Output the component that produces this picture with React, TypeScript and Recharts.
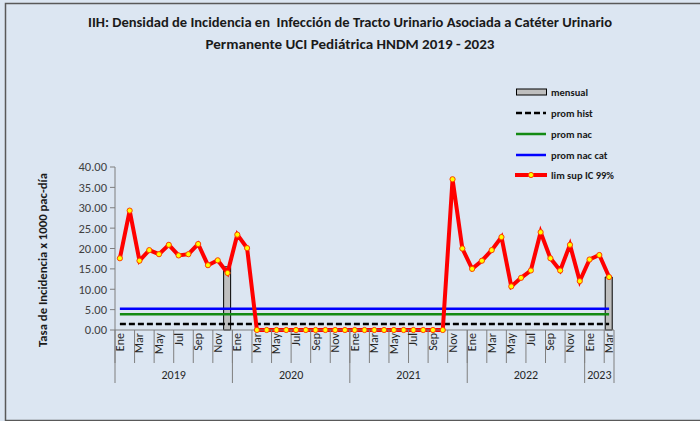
import { Bar, CartesianGrid, ComposedChart, Line, XAxis, YAxis } from "recharts"

document.body.style.margin = "0"

const meses = ["Ene", "Feb", "Mar", "Abr", "May", "Jun", "Jul", "Ago", "Sep", "Oct", "Nov", "Dic"]
const anios = ["2019", "2020", "2021", "2022", "2023"]
const mesesPorAnio = [12, 12, 12, 12, 3]

// lim sup IC 99%
const limSup = [
  17.6, 29.3, 17.0, 19.6, 18.6, 20.9, 18.3, 18.6, 21.1, 15.9, 17.1, 14.0,
  23.4, 20.1, 0, 0, 0, 0, 0, 0, 0, 0, 0, 0,
  0, 0, 0, 0, 0, 0, 0, 0, 0, 0, 37.0, 20.0,
  15.0, 17.0, 19.6, 22.8, 10.7, 12.8, 14.6, 24.0, 17.6, 14.6, 20.9, 12.0,
  17.3, 18.4, 13.0,
]
// tasa mensual (solo meses con casos)
const mensual: Record<number, number> = { 11: 15.5, 50: 13.0 }
const promHist = 1.47
const promNac = 3.85
const promNacCat = 5.2

const yTicks = [0, 5, 10, 15, 20, 25, 30, 35, 40]

const data: any[] = []
anios.forEach((anio, ai) => {
  for (let m = 0; m < mesesPorAnio[ai]; m++) {
    const i = data.length
    data.push({
      key: `${anio}-${m}`,
      mes: meses[m],
      mesIdx: m,
      anio,
      anioIdx: ai,
      mensual: mensual[i] ?? null,
      promHist,
      promNac,
      promNacCat,
      limSup: limSup[i],
    })
  }
})

const LEFT = 115
const RIGHT = 614
const BOTTOM = 330
const BW = (RIGHT - LEFT) / data.length
const FONT = "Carlito, Calibri, 'Liberation Sans', sans-serif"

function MonthTick(props: any) {
  const { x, index } = props
  const d = data[index]
  if (!d) return null
  const left = x - BW / 2
  const parts: any[] = []
  if (index % 2 === 0) {
    parts.push(<line key="s" x1={left} x2={left} y1={BOTTOM} y2={363} stroke="#7f7f7f" strokeWidth={1} />)
    parts.push(
      <text key="t" x={x + 4} y={BOTTOM + 3} transform={`rotate(-90 ${x + 4} ${BOTTOM + 3})`}
        textAnchor="end" fontSize={12} fontFamily={FONT} fill="#262626">
        {d.mes}
      </text>
    )
  }
  if (index === data.length - 1) {
    parts.push(<line key="e" x1={x + BW / 2} x2={x + BW / 2} y1={BOTTOM} y2={383} stroke="#7f7f7f" strokeWidth={1} />)
  }
  if (d.mesIdx === 0) {
    const n = mesesPorAnio[d.anioIdx]
    parts.push(<line key="y" x1={left} x2={left} y1={BOTTOM} y2={383} stroke="#7f7f7f" strokeWidth={1} />)
    parts.push(
      <text key="yt" x={left + (n * BW) / 2} y={379} textAnchor="middle" fontSize={12} fontFamily={FONT} fill="#262626">
        {d.anio}
      </text>
    )
  }
  return <g>{parts}</g>
}

const legendItems = [
  { name: "mensual", y: 92, kind: "bar" },
  { name: "prom hist", y: 113, kind: "dash", color: "#000" },
  { name: "prom nac", y: 134, kind: "line", color: "#138a13" },
  { name: "prom nac cat", y: 155, kind: "line", color: "#0000ff" },
  { name: "lim sup IC 99%", y: 175, kind: "red", color: "#ff0000" },
]

export default function App() {
  return (
    <div style={{ position: "relative", width: 700, height: 421, background: "#dce6f2" }}>
      <ComposedChart
        width={700}
        height={421}
        data={data}
        margin={{ top: 167, right: 86, bottom: 31, left: 0 }}
        barSize={7}
      >
        <CartesianGrid horizontal={false} vertical={false} />
        <XAxis
          dataKey="key"
          interval={0}
          height={60}
          tickLine={false}
          axisLine={{ stroke: "#7f7f7f" }}
          tick={<MonthTick />}
        />
        <YAxis
          width={115}
          domain={[0, 40]}
          ticks={yTicks}
          tickSize={5}
          tickMargin={3}
          tickFormatter={(v: number) => v.toFixed(2)}
          axisLine={{ stroke: "#7f7f7f" }}
          tickLine={{ stroke: "#7f7f7f" }}
          tick={{ fontSize: 12.5, fill: "#404040", fontFamily: FONT }}
        />
        <Bar dataKey="mensual" fill="#bfbfbf" stroke="#000" strokeWidth={1} isAnimationActive={false} />
        <Line dataKey="promHist" stroke="#000" strokeWidth={2.5} strokeDasharray="6 3" dot={false} isAnimationActive={false} />
        <Line dataKey="promNac" stroke="#138a13" strokeWidth={2.5} dot={false} isAnimationActive={false} />
        <Line dataKey="promNacCat" stroke="#0000ff" strokeWidth={2.5} dot={false} isAnimationActive={false} />
        <Line
          dataKey="limSup"
          stroke="#ff0000"
          strokeWidth={4}
          dot={{ r: 2.6, fill: "#ffff00", stroke: "#ff4000", strokeWidth: 1 }}
          isAnimationActive={false}
        />
      </ComposedChart>
      <svg width={700} height={421} style={{ position: "absolute", left: 0, top: 0, pointerEvents: "none" }}>
        <rect x={5.5} y={3.5} width={720} height={417} fill="none" stroke="#595959" strokeWidth={1.5} />
        <text x={350} y={27} textAnchor="middle" fontWeight="bold" fontSize={13} fontFamily={FONT} fill="#1a1a1a"
          textLength={524} lengthAdjust="spacingAndGlyphs" style={{ whiteSpace: "pre" }}>
          IIH: Densidad de Incidencia en  Infección de Tracto Urinario Asociada a Catéter Urinario
        </text>
        <text x={350} y={49} textAnchor="middle" fontWeight="bold" fontSize={13} fontFamily={FONT} fill="#1a1a1a"
          textLength={289} lengthAdjust="spacingAndGlyphs">
          Permanente UCI Pediátrica HNDM 2019 - 2023
        </text>
        <text x={47} y={260} transform="rotate(-90 47 260)" textAnchor="middle" fontWeight="bold" fontSize={12}
          fontFamily={FONT} fill="#1a1a1a" textLength={174} lengthAdjust="spacingAndGlyphs">
          Tasa de Incidencia x 1000 pac-día
        </text>
        {legendItems.map((it) => (
          <g key={it.name}>
            {it.kind === "bar" && (
              <rect x={516.5} y={it.y - 3} width={30} height={6} fill="#bfbfbf" stroke="#000" strokeWidth={1} />
            )}
            {it.kind === "dash" && (
              <line x1={516} x2={546} y1={it.y} y2={it.y} stroke="#000" strokeWidth={2.5} strokeDasharray="6 3" />
            )}
            {it.kind === "line" && (
              <line x1={516} x2={546} y1={it.y} y2={it.y} stroke={it.color} strokeWidth={2.5} />
            )}
            {it.kind === "red" && (
              <>
                <line x1={515} x2={547} y1={it.y} y2={it.y} stroke="#ff0000" strokeWidth={4} />
                <circle cx={531} cy={it.y} r={2.6} fill="#ffff00" stroke="#ff4000" strokeWidth={1} />
              </>
            )}
            <text x={551} y={it.y + 3.5} fontWeight="bold" fontSize={10.5} fontFamily={FONT} fill="#1a1a1a">
              {it.name}
            </text>
          </g>
        ))}
      </svg>
    </div>
  )
}
